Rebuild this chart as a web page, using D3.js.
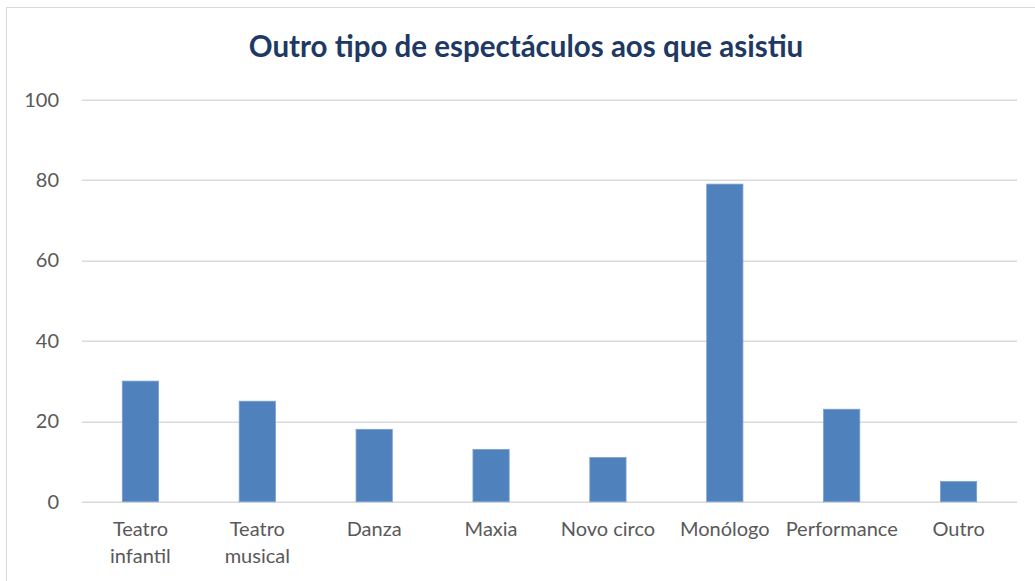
<!DOCTYPE html>
<html>
<head>
<meta charset="utf-8">
<script src="https://cdnjs.cloudflare.com/ajax/libs/d3/7.8.5/d3.min.js"></script>
<style>
  body { margin: 0; background: #fff; }
  svg { display: block; }
</style>
</head>
<body>
<div id="chart"></div>
<script>
var categories = [["Teatro", "infantil"], ["Teatro", "musical"], ["Danza"], ["Maxia"], ["Novo circo"], ["Monólogo"], ["Performance"], ["Outro"]];
var values = [30, 25, 18, 13, 11, 79, 23, 5];
var yTicks = [0, 20, 40, 60, 80, 100];
var chartTitle = "Outro tipo de espectáculos aos que asistiu";

var data = categories.map(function (c, i) {
    return { name: c.join(" "), lines: c, value: values[i] };
});

var width = 1035, height = 581;
var margin = { top: 99.7, right: 18, bottom: 79.3, left: 82 };
var innerW = width - margin.left - margin.right;
var innerH = height - margin.top - margin.bottom;
var fontFam = "Lato, 'Open Sans', sans-serif";

var svg = d3.select("#chart").append("svg")
    .attr("width", width)
    .attr("height", height);

// chart frame
svg.append("rect")
    .attr("x", 6.5).attr("y", 7.5)
    .attr("width", width).attr("height", height)
    .attr("fill", "none")
    .attr("stroke", "#d9d9d9")
    .attr("stroke-width", 1);

svg.append("text")
    .attr("x", 526)
    .attr("y", 57)
    .attr("text-anchor", "middle")
    .attr("font-family", fontFam)
    .attr("font-weight", "bold")
    .attr("font-size", "29.5px")
    .attr("fill", "#203864")
    .text(chartTitle);

var g = svg.append("g")
    .attr("transform", "translate(" + margin.left + "," + margin.top + ")");

var x = d3.scaleBand()
    .domain(data.map(function (d) { return d.name; }))
    .range([0, innerW])
    .paddingInner(0.69)
    .paddingOuter(0.345);

var y = d3.scaleLinear()
    .domain([0, 100])
    .range([innerH, 0]);

// gridlines
g.selectAll(".grid")
    .data(yTicks)
    .enter().append("line")
    .attr("x1", 0).attr("x2", innerW)
    .attr("y1", function (d) { return Math.round(y(d)) + 0.5; })
    .attr("y2", function (d) { return Math.round(y(d)) + 0.5; })
    .attr("stroke", "#d9d9d9")
    .attr("stroke-width", 1.5);

// y labels
g.selectAll(".ylab")
    .data(yTicks)
    .enter().append("text")
    .attr("x", -23)
    .attr("y", function (d) { return y(d); })
    .attr("dy", "0.35em")
    .attr("text-anchor", "end")
    .attr("font-family", fontFam)
    .attr("font-size", "20px")
    .attr("fill", "#595959")
    .text(function (d) { return d; });

// bars
g.selectAll(".bar")
    .data(data)
    .enter().append("rect")
    .attr("class", "bar")
    .attr("x", function (d) { return x(d.name); })
    .attr("width", x.bandwidth())
    .attr("y", function (d) { return y(d.value); })
    .attr("height", function (d) { return innerH - y(d.value); })
    .attr("fill", "#4f81bd")
    .attr("stroke", "#7aa0cf")
    .attr("stroke-width", 0.8);

// category labels
var catText = g.selectAll(".xlab")
    .data(data)
    .enter().append("text")
    .attr("text-anchor", "middle")
    .attr("font-family", fontFam)
    .attr("font-size", "20px")
    .attr("fill", "#595959")
    .attr("transform", function (d) {
        return "translate(" + (x(d.name) + x.bandwidth() / 2) + "," + (innerH + 34) + ")";
    });

catText.selectAll("tspan")
    .data(function (d) { return d.lines; })
    .enter().append("tspan")
    .attr("x", 0)
    .attr("dy", function (d, i) { return i === 0 ? 0 : 27; })
    .text(function (d) { return d; });
</script>
</body>
</html>
